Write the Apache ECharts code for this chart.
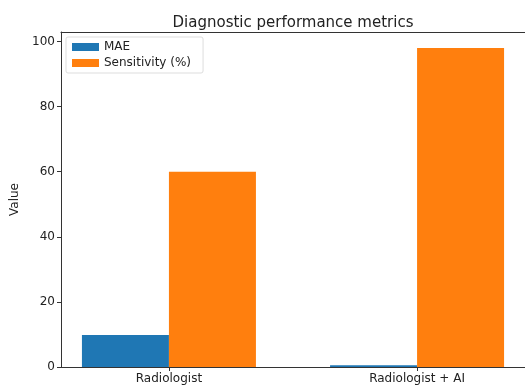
<!DOCTYPE html>
<html>
<head>
<meta charset="utf-8">
<script src="https://cdn.jsdelivr.net/npm/echarts@6/dist/echarts.min.js"></script>
<style>
  html, body { margin: 0; padding: 0; background: #fff; }
  #chart { width: 525px; height: 385px; }
</style>
</head>
<body>
<div id="chart"></div>
<script>
// groups on the x axis, placed at 0 and 1
var groups = ['Radiologist', 'Radiologist + AI']
var groupPos = [0, 1]
var maeValues = [9.8, 0.5]
var sensitivityValues = [60, 98]
var yTicks = [0, 20, 40, 60, 80, 100]

var myChart = echarts.init(document.getElementById('chart'))

function pairs(vals) {
    return groupPos.map(function (p, i) { return [p, vals[i]] })
}

var option = {
    backgroundColor: '#ffffff',
    animation: false,
    textStyle: { fontFamily: 'DejaVu Sans' },
    title: {
        text: 'Diagnostic performance metrics',
        left: 288,
        top: 11,
        textAlign: 'center',
        textStyle: { fontSize: 15, fontWeight: 'normal', color: '#222' }
    },
    grid: { left: 61, right: -4, top: 32, bottom: 18 },
    legend: {
        orient: 'vertical',
        left: 66, top: 37,
        padding: [4, 12, 4, 6],
        itemWidth: 27, itemHeight: 8, itemGap: 4,
        borderColor: '#ddd', borderWidth: 1, borderRadius: 2,
        textStyle: { fontSize: 12, color: '#222' },
        data: [{ name: 'MAE', icon: 'rect' }, { name: 'Sensitivity (%)', icon: 'rect' }]
    },
    xAxis: [
        {
            type: 'value',
            min: -0.435, max: 1.435,
            splitLine: { show: false },
            axisLine: { show: true, onZero: false, lineStyle: { color: '#333' } },
            axisTick: { show: true, customValues: groupPos, length: 4, lineStyle: { color: '#333' } },
            axisLabel: {
                customValues: groupPos, fontSize: 12, color: '#222', margin: 6,
                formatter: function (v) { return groups[Math.round(v)] }
            }
        },
        {
            // top spine
            type: 'value', position: 'top',
            min: -0.435, max: 1.435,
            splitLine: { show: false },
            axisLine: { show: true, onZero: false, lineStyle: { color: '#333' } },
            axisTick: { show: false },
            axisLabel: { show: false }
        }
    ],
    yAxis: {
        type: 'value',
        min: 0, max: 102.9,
        name: 'Value', nameLocation: 'middle', nameGap: 40, nameRotate: 90,
        nameTextStyle: { fontSize: 12, color: '#222' },
        splitLine: { show: false },
        axisLine: { show: true, onZero: false, lineStyle: { color: '#333' } },
        axisTick: { show: true, customValues: yTicks, length: 4, lineStyle: { color: '#333' } },
        axisLabel: { customValues: yTicks, fontSize: 12, color: '#222', margin: 6 }
    },
    series: [
        {
            name: 'MAE', type: 'bar', data: pairs(maeValues),
            barWidth: 87, barGap: '0%',
            itemStyle: { color: '#1f77b4' }
        },
        {
            name: 'Sensitivity (%)', type: 'bar', data: pairs(sensitivityValues),
            barWidth: 87, barGap: '0%',
            itemStyle: { color: '#ff7f0e' }
        }
    ]
}

myChart.setOption(option)
</script>
</body>
</html>
